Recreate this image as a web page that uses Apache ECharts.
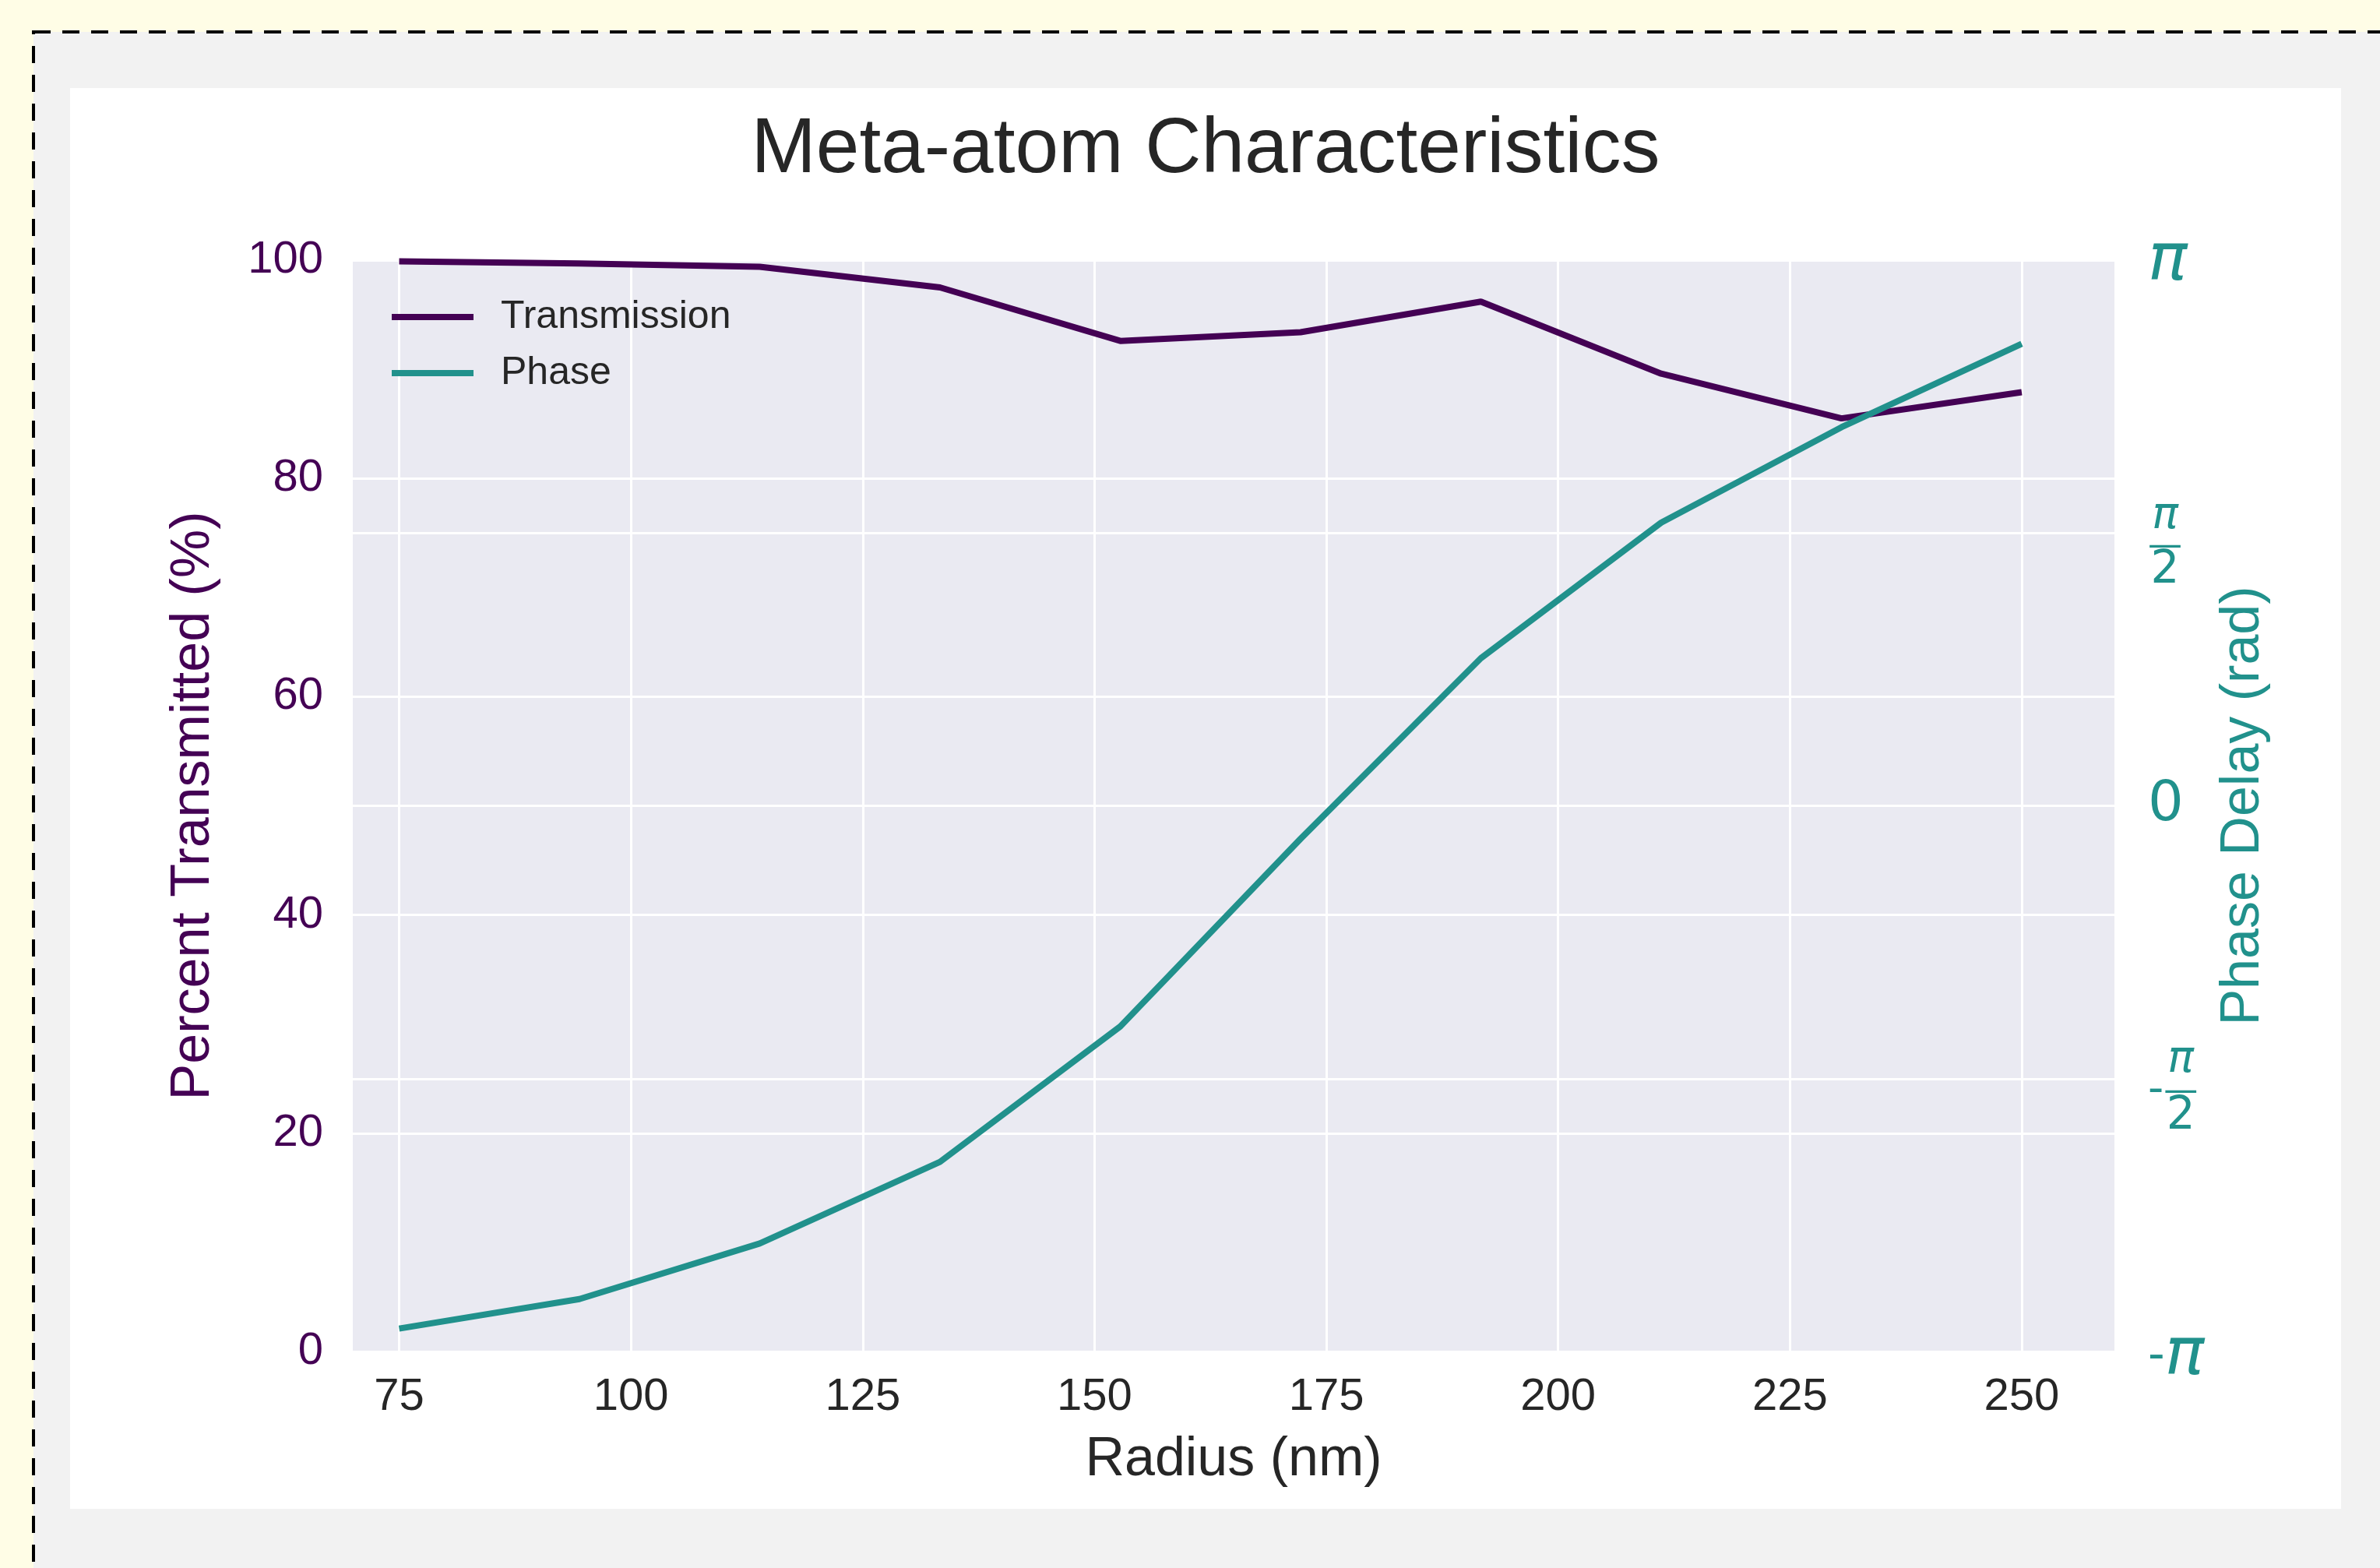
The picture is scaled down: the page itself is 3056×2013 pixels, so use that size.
<!DOCTYPE html>
<html><head><meta charset="utf-8">
<script src="https://cdn.jsdelivr.net/npm/echarts@6/dist/echarts.min.js"></script>
<style>
html,body{margin:0;padding:0;width:3056px;height:2013px;overflow:hidden;background:#fffde6;}
#frame{position:absolute;left:0;top:0;}
#chart{position:absolute;left:90px;top:113px;width:2916px;height:1824px;background:#ffffff;}
</style></head><body>
<svg id="frame" width="3056" height="2013"><rect x="43" y="41" width="3100" height="2100" fill="#f2f2f2" stroke="#000" stroke-width="4" stroke-dasharray="22 15"/></svg>
<div id="chart"></div>
<script>
// ---- data ----
const radius = [75, 94.44, 113.89, 133.33, 152.78, 172.22, 191.67, 211.11, 230.56, 250];
const transmission = [99.9, 99.7, 99.4, 97.5, 92.6, 93.4, 96.2, 89.6, 85.5, 87.9];
const phase = [-3.01, -2.84, -2.52, -2.05, -1.27, -0.19, 0.85, 1.63, 2.18, 2.66];
const xTicks = [75, 100, 125, 150, 175, 200, 225, 250];
const seriesNames = ['Transmission', 'Phase'];
// right-axis labels from -pi to pi in steps of pi/2 (fraction bars drawn by a companion axis)
const phaseTickLabels = [
  '{sp3| }\n{m|-}{pi|π}',
  '{sp2| }\n{mt|-}{n|π}\n{mm|-}{bl|—}\n{mt|-}{d|2}',
  '{z|0}',
  '{sp2| }\n{n|π}\n{bl|—}\n{d|2}',
  '{sp4| }\n{pi|π}'
];
const phaseBarLabels = ['', '{mt|-}{b|—}', '', '{b|—}', ''];

const PURPLE = '#440154', TEAL = '#21918c', INK = '#262626';
const SANS = 'Liberation Sans, Arial, sans-serif';
const DJV = 'DejaVu Sans';
const CLEAR = 'rgba(0,0,0,0)';
const phaseRich = {
  pi: {fontFamily: DJV, fontStyle: 'italic', fontSize: 84, color: TEAL},
  m: {fontFamily: DJV, fontSize: 60, color: TEAL},
  z: {fontFamily: DJV, fontSize: 72, color: TEAL},
  n: {fontFamily: DJV, fontStyle: 'italic', fontSize: 56, color: TEAL, align: 'center', lineHeight: 68},
  bl: {fontFamily: DJV, fontSize: 44, color: CLEAR, lineHeight: 10},
  d: {fontFamily: DJV, fontSize: 58, color: TEAL, align: 'center', lineHeight: 52},
  mt: {fontFamily: DJV, fontSize: 56, color: CLEAR},
  sp2: {fontSize: 10, lineHeight: 20},
  sp3: {fontSize: 10, lineHeight: 14},
  sp4: {fontSize: 10, lineHeight: 6},
  mm: {fontFamily: DJV, fontSize: 56, color: TEAL, lineHeight: 10}
};
const barRich = {
  b: {fontFamily: DJV, fontSize: 44, color: TEAL, lineHeight: 36},
  mt: {fontFamily: DJV, fontSize: 56, color: CLEAR, lineHeight: 36}
};
function phaseIndex(v) { return Math.round(v / (Math.PI / 2)) + 2; }

const chart = echarts.init(document.getElementById('chart'), null, {renderer: 'canvas'});
chart.setOption({
  animation: false,
  backgroundColor: '#ffffff',
  title: {
    text: 'Meta-atom Characteristics', left: 'center', top: 25,
    textStyle: {fontSize: 100, fontWeight: 'normal', color: INK, fontFamily: SANS}
  },
  legend: {
    orient: 'vertical', left: 408, top: 264, itemWidth: 105, itemHeight: 8, itemGap: 22,
    icon: 'rect', data: seriesNames,
    textStyle: {fontSize: 50, color: INK, fontFamily: SANS, padding: [0, 0, 0, 30]}
  },
  grid: {
    left: 363, right: 291, top: 221, bottom: 202, containLabel: false,
    show: true, backgroundColor: '#EAEAF2', borderWidth: 0
  },
  xAxis: {
    type: 'value', min: 70, max: 260,
    axisLine: {show: false}, axisTick: {show: false, customValues: xTicks},
    axisLabel: {customValues: xTicks, fontSize: 58, color: INK, fontFamily: SANS, margin: 30},
    splitLine: {show: true, lineStyle: {color: '#ffffff', width: 3}},
    name: 'Radius (nm)', nameLocation: 'middle', nameGap: 105,
    nameTextStyle: {fontSize: 70, color: INK, fontFamily: SANS}
  },
  yAxis: [{
    type: 'value', position: 'left', min: 0, max: 100, interval: 20,
    axisLine: {show: false}, axisTick: {show: false},
    axisLabel: {fontSize: 58, color: PURPLE, fontFamily: SANS, margin: 38},
    splitLine: {show: true, lineStyle: {color: '#ffffff', width: 3}},
    name: 'Percent Transmitted (%)', nameLocation: 'middle', nameGap: 169, nameRotate: 90,
    nameTextStyle: {fontSize: 70, color: PURPLE, fontFamily: SANS}
  }, {
    type: 'value', position: 'right', min: -Math.PI, max: Math.PI, interval: Math.PI / 2,
    axisLine: {show: false}, axisTick: {show: false},
    axisLabel: {
      margin: 43,
      formatter: function (v) { return phaseTickLabels[phaseIndex(v)] || ''; },
      rich: phaseRich
    },
    splitLine: {show: true, lineStyle: {color: '#ffffff', width: 3}},
    name: 'Phase Delay (rad)', nameLocation: 'middle', nameGap: 131, nameRotate: 90,
    nameTextStyle: {fontSize: 70, color: TEAL, fontFamily: SANS}
  }, {
    type: 'value', position: 'right', min: -Math.PI, max: Math.PI, interval: Math.PI / 2,
    axisLine: {show: false}, axisTick: {show: false}, splitLine: {show: false},
    axisLabel: {
      margin: 43, verticalAlign: 'top',
      formatter: function (v) { return phaseBarLabels[phaseIndex(v)] || ''; },
      rich: barRich
    }
  }],
  series: [{
    name: seriesNames[0], type: 'line', yAxisIndex: 0, symbol: 'none', showSymbol: false,
    color: PURPLE, lineStyle: {color: PURPLE, width: 8},
    data: radius.map((r, i) => [r, transmission[i]])
  }, {
    name: seriesNames[1], type: 'line', yAxisIndex: 1, symbol: 'none', showSymbol: false,
    color: TEAL, lineStyle: {color: TEAL, width: 8},
    data: radius.map((r, i) => [r, phase[i]])
  }]
});
</script>
</body></html>
